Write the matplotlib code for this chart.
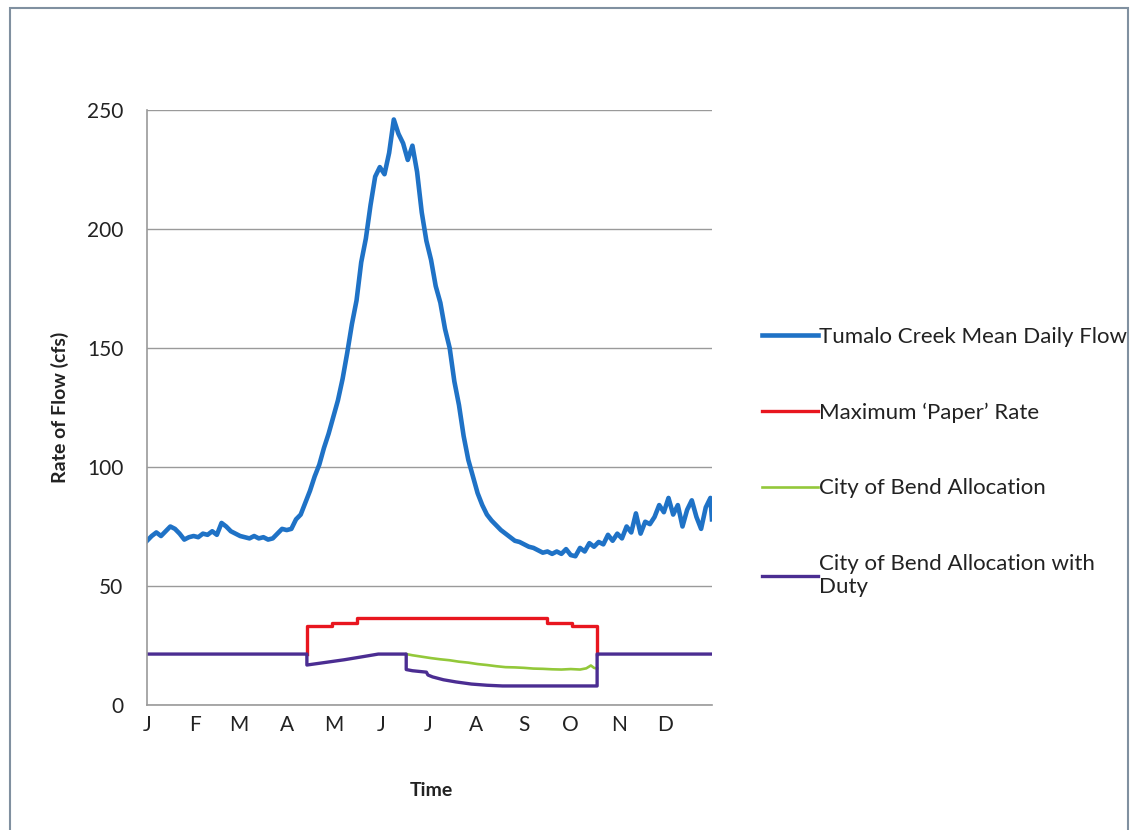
"""Tumalo Creek mean daily flow vs. City of Bend allocations"""
import matplotlib.pyplot as plt
from matplotlib.patches import Rectangle

plt.rcParams['font.family'] = ['Lato', 'DejaVu Sans']

BLUE = '#1f72c6'
RED = '#e8161f'
GREEN = '#93c83a'
PURPLE = '#4b2d92'

months = ['J', 'F', 'M', 'A', 'M', 'J', 'J', 'A', 'S', 'O', 'N', 'D']
month_start = [1, 32, 60, 91, 121, 152, 182, 213, 244, 274, 305, 335]

# mean daily flow (cfs), read every 3rd day from the chart
flow_days = list(range(1, 365, 3)) + [365]
flow = [69, 71, 72.5, 71, 73, 75, 74, 72, 69.5, 70.5,
        71, 70.5, 72, 71.5, 73, 71.5, 76.5, 75, 73, 72,
        71, 70.5, 70, 71, 70, 70.5, 69.5, 70, 72, 74,
        73.5, 74, 78, 80, 85, 90, 96, 101, 108, 114,
        121, 128, 137, 148, 160, 170, 186, 196, 210, 222,
        226, 223, 232, 246, 240, 236, 229, 235, 224, 207,
        195, 187, 176, 169, 158, 150, 136, 126, 113, 103,
        96, 89, 84, 80, 77.5, 75.5, 73.5, 72, 70.5, 69,
        68.5, 67.5, 66.5, 66, 65, 64, 64.5, 63.5, 64.5, 63.5,
        65.5, 63, 62.5, 66, 64.5, 68, 66.5, 68.5, 67.5, 71.5,
        69, 72, 70, 75, 72.5, 80.5, 72, 77, 76, 79,
        84, 81, 87, 80, 84, 75, 82, 86, 79, 74,
        83, 87, 78]

# maximum 'paper' rate (step changes)
paper_days = [104, 104, 120, 136, 259, 275, 291]
paper_rate = [21.4, 33.2, 34.3, 36.4, 34.3, 33.2, 21.4]

# City of Bend allocation (only differs from the duty line in summer)
alloc_days = [168, 172, 178, 184, 190, 196, 202, 208, 214, 220, 226, 232,
              238, 244, 250, 256, 262, 268, 274, 280, 284, 287, 289, 291]
alloc = [21.4, 20.9, 20.3, 19.7, 19.2, 18.8, 18.2, 17.8, 17.2, 16.8, 16.3, 15.9,
         15.8, 15.6, 15.3, 15.2, 15.0, 14.9, 15.1, 14.9, 15.4, 16.6, 15.6, 15.3]

# allocation with duty
duty_days = [1, 104, 104, 115, 128, 140, 150, 168, 168, 172, 181, 182, 185,
             192, 200, 210, 220, 230, 291, 291, 365]
duty = [21.4, 21.4, 16.8, 17.8, 19.0, 20.3, 21.4, 21.4, 14.9, 14.4, 13.8, 12.6, 11.8,
        10.6, 9.7, 8.8, 8.3, 8.0, 8.0, 21.4, 21.4]

fig = plt.figure(figsize=(11.31, 8.30), dpi=100)
ax = fig.add_axes([0.130, 0.1506, 0.4995, 0.7169])

l1, = ax.plot(flow_days, flow, color=BLUE, lw=3.3, solid_joinstyle='round',
              label='Tumalo Creek Mean Daily Flow')
l2, = ax.step(paper_days, paper_rate, where='post', color=RED, lw=2.4,
              label='Maximum \u2018Paper\u2019 Rate')
l3, = ax.plot(alloc_days, alloc, color=GREEN, lw=1.9,
              label='City of Bend Allocation')
l4, = ax.plot(duty_days, duty, color=PURPLE, lw=2.4,
              label='City of Bend Allocation with\nDuty')

ax.set_xlim(1, 365)
ax.set_ylim(0, 250)
ax.set_yticks([0, 50, 100, 150, 200, 250])
ax.set_xticks(month_start)
ax.set_xticklabels(months)
ax.tick_params(axis='y', length=0, pad=17, labelsize=15, labelcolor='#222222')
ax.tick_params(axis='x', length=0, pad=7, labelsize=15, labelcolor='#222222')
ax.grid(axis='y', color='#9a9a9a', lw=1)
ax.set_axisbelow(True)
for s in ['top', 'right']:
    ax.spines[s].set_visible(False)
for s in ['left', 'bottom']:
    ax.spines[s].set_color('#9a9a9a')
    ax.spines[s].set_linewidth(1.2)

ax.set_ylabel('Rate of Flow (cfs)', fontsize=14, fontweight='bold', color='#222222')
ax.yaxis.set_label_coords(-0.138, 0.5)
ax.set_xlabel('Time', fontsize=14, fontweight='bold', color='#222222')
ax.xaxis.set_label_coords(0.504, -0.129)

fig.legend(handles=[l1, l2, l3, l4], loc='upper left',
           bbox_to_anchor=(742 / 1131, 1 - 307 / 830), frameon=False,
           fontsize=16, handlelength=2.5, handletextpad=0.05,
           labelspacing=2.5, labelcolor='#222222')

fig.add_artist(Rectangle((0.009, -0.01), 0.988, 1.0, transform=fig.transFigure,
                         fill=False, edgecolor='#8090a0', lw=1.5))

fig.savefig('out.png', dpi=100)
